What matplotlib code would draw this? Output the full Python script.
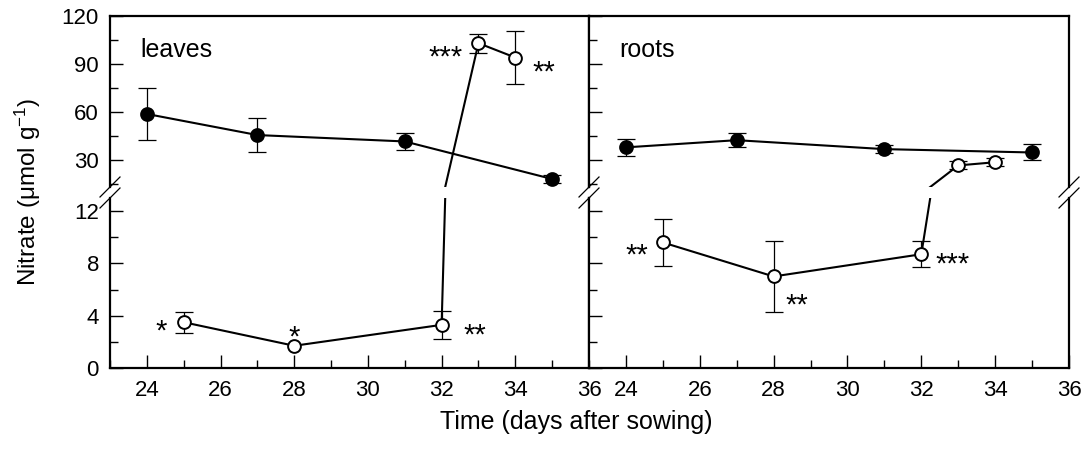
import matplotlib
matplotlib.use("Agg")
import matplotlib.pyplot as plt
from matplotlib.lines import Line2D
from matplotlib.ticker import FixedLocator, MultipleLocator

plt.rcParams['font.family'] = ['Liberation Sans', 'DejaVu Sans']
plt.rcParams['mathtext.fontset'] = 'custom'
plt.rcParams['mathtext.rm'] = 'Liberation Sans'
plt.rcParams['mathtext.it'] = 'Liberation Sans:italic'

# ==================================================
# data
# ==================================================
days_filled = [24, 27, 31, 35]
days_open = [25, 28, 32, 33, 34]

leaves_filled = [58.7, 45.5, 41.5, 18.0]
leaves_filled_err = [16.5, 10.4, 5.2, 2.6]
leaves_open = [3.5, 1.7, 3.3, 103.0, 94.0]
leaves_open_err = [0.8, 0.0, 1.05, 6.0, 16.5]

roots_filled = [37.8, 42.3, 36.7, 34.6]
roots_filled_err = [5.4, 4.5, 2.5, 5.0]
roots_open = [9.6, 7.0, 8.7, 26.5, 28.5]
roots_open_err = [1.8, 2.7, 1.0, 2.5, 2.5]

# significance marks: (day, value, text, dx pt, dy pt)
leaves_stars = [(25, 3.5, "*", -16.5, -0.7), (28, 1.7, "*", 0, 12.2),
                (32, 3.3, "**", 23.8, -1.4), (33, 103.0, "***", -23.8, -4.3),
                (34, 94.0, "**", 20.9, -4.3)]
roots_stars = [(25, 9.6, "**", -18.7, -2.9), (28, 7.0, "**", 16.6, -15.1),
               (32, 8.7, "***", 22.3, -1.4)]

panel_names = ["leaves", "roots"]

# ==================================================
# layout (pixels of the 1088x453 picture)
# ==================================================
W, H = 1088, 453
panel_x = [(110, 589), (589, 1069)]
top_y = (16, 187)
bot_y = (198, 368)
TOP_LIM = (13, 120)
BOT_LIM = (0, 13)

TICK_FS = 16
LABEL_FS = 17.5
STAR_FS = 21


def fx(px):
    return px / W


def fy(py):
    return 1 - py / H


fig = plt.figure(figsize=(W / 100, H / 100), dpi=100)

panel_data = [
    (leaves_filled, leaves_filled_err, leaves_open, leaves_open_err, leaves_stars),
    (roots_filled, roots_filled_err, roots_open, roots_open_err, roots_stars),
]


def draw_series(ax, days, vals, errs, face, lim):
    # connecting line uses every point, clipped by the axes
    ax.plot(days, vals, '-', color='black', lw=1.5, zorder=3)
    # error bars and markers only for points that belong to this axes
    inside = [lim[0] <= v <= lim[1] for v in vals]
    xs = [d for d, e, k in zip(days, errs, inside) if e > 0 and k]
    ys = [v for v, e, k in zip(vals, errs, inside) if e > 0 and k]
    es = [e for e, k in zip(errs, inside) if e > 0 and k]
    if xs:
        ax.errorbar(xs, ys, yerr=es, fmt='none', ecolor='black', elinewidth=0.9,
                    capsize=6.2, capthick=0.9, zorder=2)
    mx = [d for d, k in zip(days, inside) if k]
    my = [v for v, k in zip(vals, inside) if k]
    ax.plot(mx, my, 'o', ms=9.2, markerfacecolor=face, markeredgecolor='black',
            markeredgewidth=1.4, zorder=4)


for i, (x0, x1) in enumerate(panel_x):
    f_vals, f_err, o_vals, o_err, stars = panel_data[i]
    ax_t = fig.add_axes([fx(x0), fy(top_y[1]), fx(x1) - fx(x0), (top_y[1] - top_y[0]) / H])
    ax_b = fig.add_axes([fx(x0), fy(bot_y[1]), fx(x1) - fx(x0), (bot_y[1] - bot_y[0]) / H])

    for ax, lim in ((ax_t, TOP_LIM), (ax_b, BOT_LIM)):
        draw_series(ax, days_filled, f_vals, f_err, 'black', lim)
        draw_series(ax, days_open, o_vals, o_err, 'white', lim)
        ax.set_xlim(23, 36)
        ax.set_ylim(*lim)
        for sp in ax.spines.values():
            sp.set_linewidth(1.6)
        ax.tick_params(axis='y', which='both', direction='in', width=1.0,
                       labelsize=TICK_FS, pad=8, labelleft=(i == 0))
        ax.tick_params(axis='y', which='major', length=9)
        ax.tick_params(axis='y', which='minor', length=5.8)

    ax_t.yaxis.set_major_locator(FixedLocator([30, 60, 90, 120]))
    ax_t.yaxis.set_minor_locator(FixedLocator([15, 45, 75, 105]))
    ax_t.spines['bottom'].set_visible(False)
    ax_t.tick_params(axis='x', which='both', bottom=False, labelbottom=False)

    ax_b.yaxis.set_major_locator(FixedLocator([0, 4, 8, 12]))
    ax_b.yaxis.set_minor_locator(FixedLocator([2, 6, 10]))
    ax_b.spines['top'].set_visible(False)
    ax_b.xaxis.set_major_locator(MultipleLocator(2))
    ax_b.xaxis.set_minor_locator(MultipleLocator(1))
    ax_b.tick_params(axis='x', which='both', direction='in', width=1.0,
                     labelsize=TICK_FS, pad=8.5)
    ax_b.tick_params(axis='x', which='major', length=9.3)
    ax_b.tick_params(axis='x', which='minor', length=5.8)

    for d, v, s, dx, dy in stars:
        ax = ax_t if v > TOP_LIM[0] else ax_b
        ax.annotate(s, (d, v), xytext=(dx, dy - 0.57 * STAR_FS),
                    textcoords='offset points', ha='center', va='baseline',
                    fontsize=STAR_FS, annotation_clip=False)

    ax_t.text(0.063, 0.76, panel_names[i], transform=ax_t.transAxes,
              fontsize=18, ha='left', va='baseline')

# break marks on every vertical spine
for xp in (110, 589, 1069):
    for yp in (top_y[1], bot_y[0]):
        fig.add_artist(Line2D([fx(xp - 10), fx(xp + 10)], [fy(yp + 10), fy(yp - 10)],
                              color='black', lw=0.9))

fig.text(fx(28), fy(192), "Nitrate (\u03bcmol g$^{-1}$)", rotation=90,
         fontsize=LABEL_FS, ha='center', va='center')
fig.text(fx(576), fy(429), "Time (days after sowing)", fontsize=18,
         ha='center', va='baseline')

fig.savefig("out.png", dpi=100)
